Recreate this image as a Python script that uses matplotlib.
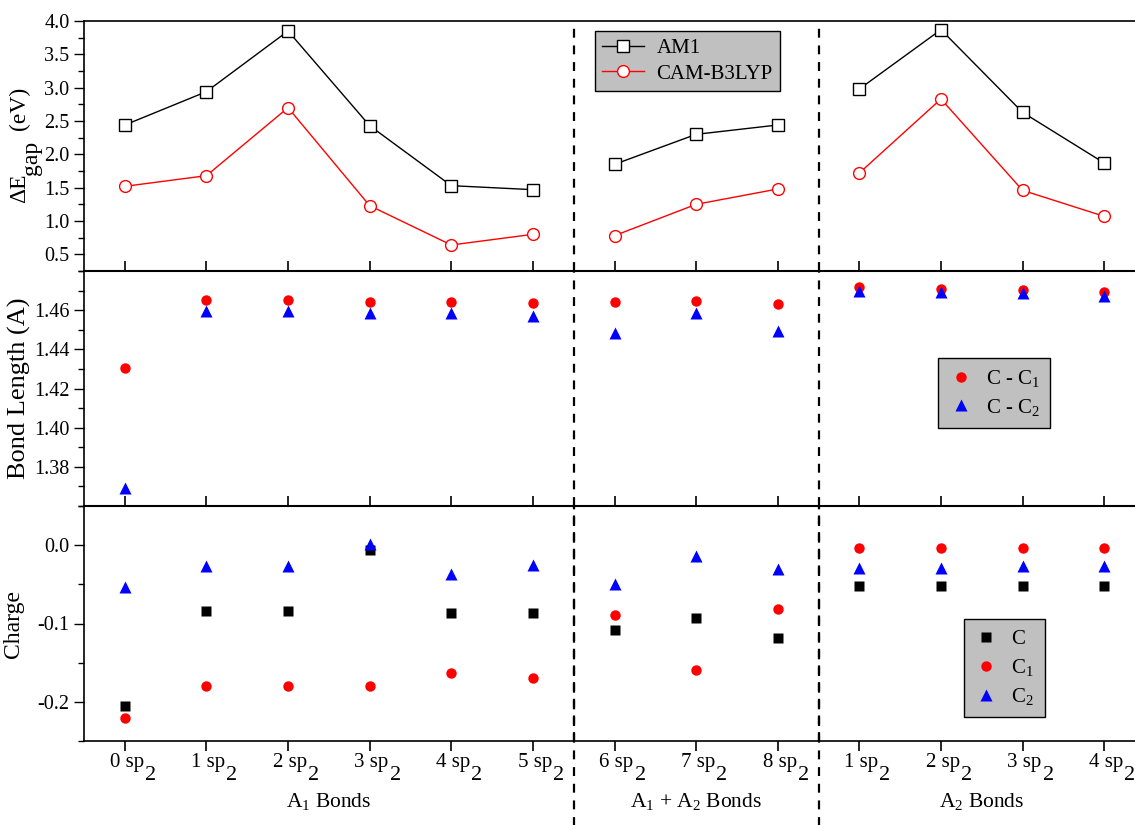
import matplotlib
matplotlib.use('Agg')
import matplotlib.pyplot as plt
from matplotlib.ticker import MultipleLocator, FixedLocator, NullFormatter
from matplotlib.transforms import offset_copy

plt.rcParams['font.family'] = ['Liberation Serif', 'DejaVu Serif']
plt.rcParams['mathtext.fontset'] = 'custom'
plt.rcParams['mathtext.rm'] = 'Liberation Serif'
plt.rcParams['mathtext.it'] = 'Liberation Serif:italic'
plt.rcParams['font.size'] = 14

# numero de enlaces sp2 en cada estructura
etiquetas = ['0', '1', '2', '3', '4', '5', '6', '7', '8', '1', '2', '3', '4']

# gap HOMO-LUMO (eV)
gap_am1 = [2.44, 2.94, 3.85, 2.43, 1.53, 1.47, 1.85, 2.30, 2.44, 2.98, 3.87, 2.63, 1.87]
gap_cam = [1.52, 1.68, 2.70, 1.23, 0.64, 0.80, 0.78, 1.25, 1.48, 1.72, 2.83, 1.46, 1.07]

# longitudes de enlace (A)
enlace_cc1 = [1.4306, 1.4651, 1.4651, 1.4641, 1.4641, 1.4638, 1.4641, 1.4646, 1.4634,
              1.4716, 1.4707, 1.4702, 1.4692]
enlace_cc2 = [1.3693, 1.4597, 1.4597, 1.4583, 1.4583, 1.4569, 1.4484, 1.4583, 1.4495,
              1.4697, 1.4692, 1.4687, 1.4672]

# cargas
carga_c = [-0.205, -0.084, -0.084, -0.006, -0.087, -0.087, -0.108, -0.093, -0.118,
           -0.052, -0.052, -0.052, -0.052]
carga_c1 = [-0.221, -0.180, -0.180, -0.180, -0.163, -0.170, -0.089, -0.159, -0.082,
            -0.003, -0.003, -0.003, -0.003]
carga_c2 = [-0.054, -0.026, -0.026, 0.002, -0.037, -0.025, -0.049, -0.014, -0.031,
            -0.029, -0.029, -0.026, -0.026]

# tramos de cada familia (A1, A1+A2, A2)
tramos = [(0, 6), (6, 9), (9, 13)]
grupos = [(2.5, 'A$_1$ Bonds'), (7.0, 'A$_1$ + A$_2$ Bonds'), (10.5, 'A$_2$ Bonds')]
separadores = [5.5, 8.5]

x = list(range(len(etiquetas)))

fig = plt.figure(figsize=(11.35, 8.25), dpi=100)
W, H = 1135.0, 825.0
izq = 84 / W
ancho = 1061 / W
ax1 = fig.add_axes([izq, (H - 271) / H, ancho, 250 / H])
ax2 = fig.add_axes([izq, (H - 506) / H, ancho, 235 / H])
ax3 = fig.add_axes([izq, (H - 741) / H, ancho, 235 / H])

leyenda = dict(facecolor='#c0c0c0', edgecolor='black', framealpha=1, fancybox=False,
               fontsize=15, borderaxespad=0, handletextpad=0.6)

# panel superior: gap, con la linea cortada entre familias
for k, (a, b) in enumerate(tramos):
    ax1.plot(x[a:b], gap_am1[a:b], '-s', color='black', lw=1, ms=8, mfc='white',
             mec='black', mew=1, label='AM1' if k == 0 else None)
    ax1.plot(x[a:b], gap_cam[a:b], '-o', color='red', lw=1, ms=8.5, mfc='white',
             mec='red', mew=1, label='CAM-B3LYP' if k == 0 else None)
ax1.set_ylim(0.25, 4.0)
ax1.yaxis.set_minor_locator(MultipleLocator(0.25))
ax1.set_yticks([0.5, 1.0, 1.5, 2.0, 2.5, 3.0, 3.5, 4.0])
l1 = ax1.legend(loc='upper left', bbox_to_anchor=(0.4816, 0.96), borderpad=0.35,
                labelspacing=0.3, **leyenda)
l1.get_frame().set_linewidth(1)

# etiqueta del eje con el subindice "gap" a tamano completo
fig.text(30 / W, (H - 203) / H, 'ΔE', rotation=90, fontsize=17, ha='right', va='bottom')
fig.text(42 / W, (H - 175) / H, 'gap', rotation=90, fontsize=17, ha='right', va='bottom')
fig.text(30 / W, (H - 130) / H, '(eV)', rotation=90, fontsize=17, ha='right', va='bottom')

# panel medio: longitudes de enlace
ax2.plot(x, enlace_cc1, 'o', color='red', ms=7.5, mec='none', label='C - C$_1$')
ax2.plot(x, enlace_cc2, '^', color='blue', ms=9, mec='none', label='C - C$_2$')
ax2.set_ylim(1.36, 1.48)
ax2.yaxis.set_major_locator(FixedLocator([1.38, 1.40, 1.42, 1.44, 1.46]))
ax2.yaxis.set_minor_locator(MultipleLocator(0.01))
ax2.set_ylabel('Bond Length (A)', fontsize=19, labelpad=2)
l2 = ax2.legend(loc='upper left', bbox_to_anchor=(0.805, 0.63), handlelength=1.2,
                borderpad=0.5, labelspacing=0.35, **leyenda)
l2.get_frame().set_linewidth(1)

# panel inferior: cargas
ax3.plot(x, carga_c, 's', color='black', ms=7, mec='none', label='C')
ax3.plot(x, carga_c1, 'o', color='red', ms=7.5, mec='none', label='C$_1$')
ax3.plot(x, carga_c2, '^', color='blue', ms=9, mec='none', label='C$_2$')
ax3.set_ylim(-0.25, 0.05)
ax3.yaxis.set_major_locator(FixedLocator([-0.2, -0.1, 0.0]))
ax3.yaxis.set_minor_locator(FixedLocator([-0.25, -0.15, -0.05, 0.05]))
ax3.set_yticklabels(['-0.2', '-0.1', '0.0'])
ax3.set_ylabel('Charge', fontsize=17, labelpad=10)
l3 = ax3.legend(loc='upper left', bbox_to_anchor=(0.829, 0.519), handlelength=1.2,
                borderpad=0.5, labelspacing=0.38, **leyenda)
l3.get_frame().set_linewidth(1)

for ax in (ax1, ax2, ax3):
    ax.set_xlim(-0.5, 12.5)
    ax.set_xticks(x)
    ax.spines['right'].set_visible(False)
    ax.tick_params(axis='y', which='major', direction='out', length=7, width=1,
                   labelsize=14.5)
    ax.tick_params(axis='y', which='minor', direction='out', length=4, width=1)
    for s in ax.spines.values():
        s.set_linewidth(1.2)
    for sx in separadores:
        ax.axvline(sx, color='black', lw=1.6, ls=(0, (4, 3.5)))

for ax in (ax1, ax2):
    ax.spines['bottom'].set_visible(False)
    ax.tick_params(axis='x', direction='inout', length=14, width=1.2,
                   labelbottom=False)
ax2.spines['top'].set_linewidth(1.5)
ax3.spines['top'].set_linewidth(1.5)

# las lineas discontinuas bajan hasta los rotulos de grupo
for sx in separadores:
    ax3.axvline(sx, ymin=-0.4, ymax=1, color='black', lw=1.6, ls=(0, (4, 3.5)),
                clip_on=False)

ax3.tick_params(axis='x', direction='out', length=7, width=1.2)
ax3.xaxis.set_major_formatter(NullFormatter())

# rotulos "n sp2" con el 2 grande y bajado
tr = ax3.get_xaxis_transform()
for i, et in zip(x, etiquetas):
    t1 = offset_copy(tr, fig=fig, x=19, y=-26, units='dots')
    ax3.text(i, 0, et + ' sp', transform=t1, ha='right', va='baseline', fontsize=15)
    t2 = offset_copy(tr, fig=fig, x=20, y=-39, units='dots')
    ax3.text(i, 0, '2', transform=t2, ha='left', va='baseline', fontsize=16)

for xc, texto in grupos:
    t3 = offset_copy(tr, fig=fig, x=0, y=-61, units='dots')
    ax3.text(xc, 0, texto, transform=t3, ha='center', va='center', fontsize=15.5)

fig.savefig('out.png', dpi=100)
